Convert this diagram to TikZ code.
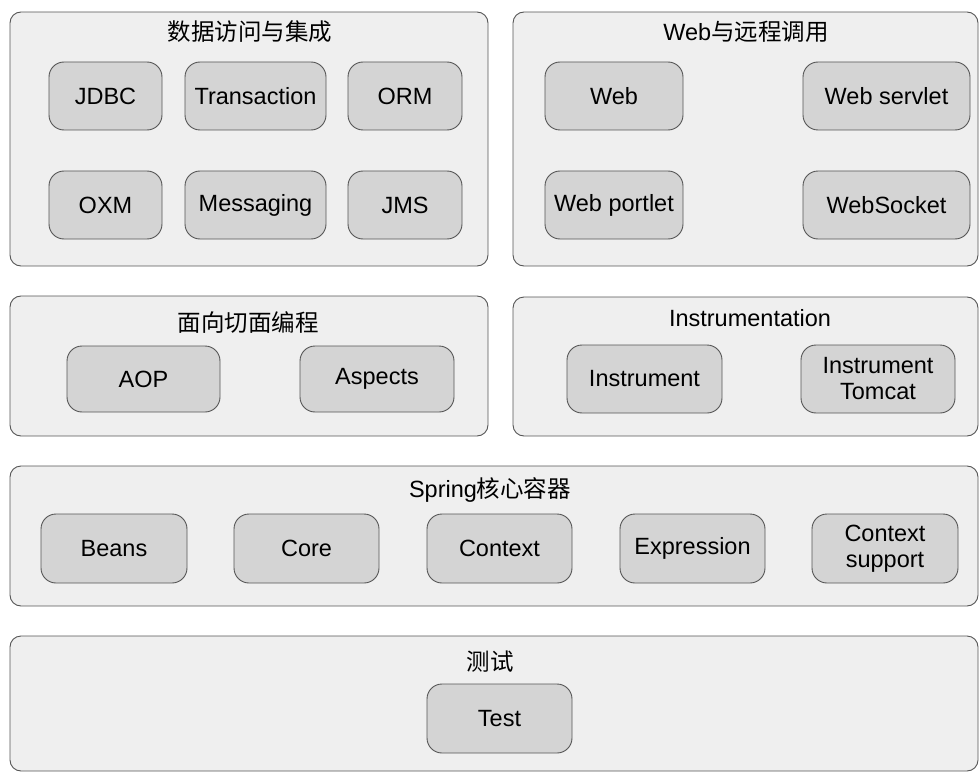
\documentclass[tikz,border=0pt]{standalone}
\usepackage{fontspec}
\setmainfont{Liberation Sans}
\newfontfamily\cjk{Noto Sans CJK SC}
\usepackage{tikz}
\definecolor{groupfill}{RGB}{239, 239, 239}
\definecolor{modfill}{RGB}{212, 212, 212}
\definecolor{edgegray}{RGB}{85, 85, 85}

\begin{document}
\begin{tikzpicture}[x=1pt,y=-1pt,
    group/.style={draw=edgegray,fill=groupfill,line width=0.9pt,rounded corners=11pt},
    module/.style={draw=edgegray,fill=modfill,line width=0.9pt,rounded corners=15pt,
      minimum height=68pt,align=center,font=\fontsize{23.5}{26}\selectfont},
    heading/.style={font=\fontsize{23.5}{26}\selectfont,inner sep=0pt}]
  \useasboundingbox (0,0) rectangle (980,773);
  % groups
  \node[group,minimum width=478pt,minimum height=254pt] (data) at (249,139) {};
  \node[group,minimum width=465pt,minimum height=254pt] (web) at (745.5,139) {};
  \node[group,minimum width=478pt,minimum height=140pt] (aop) at (249,366) {};
  \node[group,minimum width=465pt,minimum height=139pt] (instr) at (745.5,366.5) {};
  \node[group,minimum width=968pt,minimum height=140pt] (core) at (494,536) {};
  \node[group,minimum width=968pt,minimum height=135pt] (test) at (494,703.5) {};
  % headings
  \node[heading] (data-t) at (250,32) {\cjk 数据访问与集成};
  \node[heading] (web-t) at (746,32) {Web{\cjk 与远程调用}};
  \node[heading] (aop-t) at (248,322) {\cjk 面向切面编程};
  \node[heading] (instr-t) at (750,318) {Instrumentation};
  \node[heading] (core-t) at (490,490) {Spring{\cjk 核心容器}};
  \node[heading] (test-t) at (490,662) {\cjk 测试};
  % data access
  \node[module,minimum width=113pt] (jdbc) at (105.5,96) {JDBC};
  \node[module,minimum width=141pt] (tx) at (255.5,96) {Transaction};
  \node[module,minimum width=114pt] (orm) at (405,96) {ORM};
  \node[module,minimum width=113pt] (oxm) at (105.5,205) {OXM};
  \node[module,minimum width=141pt] (msg) at (255.5,205) {Messaging};
  \node[module,minimum width=114pt] (jms) at (405,205) {JMS};
  % web
  \node[module,minimum width=138pt] (webm) at (614,96) {Web};
  \node[module,minimum width=167pt] (servlet) at (886.5,96) {Web servlet};
  \node[module,minimum width=138pt] (portlet) at (614,205) {Web portlet};
  \node[module,minimum width=167pt] (socket) at (886.5,205) {WebSocket};
  % aop
  \node[module,minimum width=153pt,minimum height=66pt] (aopm) at (143.5,379) {AOP};
  \node[module,minimum width=154pt,minimum height=66pt] (aspects) at (377,379) {Aspects};
  % instrumentation
  \node[module,minimum width=155pt] (instrm) at (644.5,379) {Instrument};
  \node[module,minimum width=154pt] (tomcat) at (878,379) {Instrument\\Tomcat};
  % core container
  \node[module,minimum width=146pt,minimum height=69pt] (beans) at (114,548.5) {Beans};
  \node[module,minimum width=145pt,minimum height=69pt] (coremod) at (306.5,548.5) {Core};
  \node[module,minimum width=145pt,minimum height=69pt] (context) at (499.5,548.5) {Context};
  \node[module,minimum width=145pt,minimum height=69pt] (expr) at (692.5,548.5) {Expression};
  \node[module,minimum width=146pt,minimum height=69pt] (ctxsup) at (885,548.5) {Context\\support};
  % test
  \node[module,minimum width=145pt,minimum height=69pt] (testm) at (499.5,718.5) {Test};
\end{tikzpicture}
\end{document}
